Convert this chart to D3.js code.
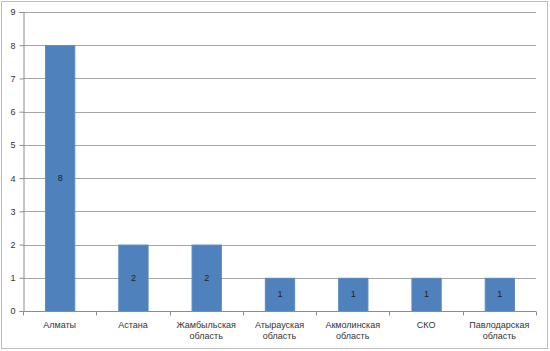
<!DOCTYPE html>
<html>
<head>
<meta charset="utf-8">
<script src="https://cdn.jsdelivr.net/npm/d3@7"></script>
<style>
  body { margin: 0; background: #fff; }
  svg { display: block; font-family: "Liberation Sans", Arial, sans-serif; }
</style>
</head>
<body>
<svg width="550" height="351"></svg>
<script>
// данные
const categories = ['Алматы', 'Астана', 'Жамбыльская область', 'Атырауская область',
  'Акмолинская область', 'СКО', 'Павлодарская область'];
const values = [8, 2, 2, 1, 1, 1, 1];
const yTicks = [0, 1, 2, 3, 4, 5, 6, 7, 8, 9];

const svg = d3.select('svg');
const margin = { left: 23, right: 14, top: 12, bottom: 40 };
const width = 550, height = 351;

// рамка диаграммы
svg.append('rect')
  .attr('x', 1.5).attr('y', 1.5)
  .attr('width', 546).attr('height', 347)
  .attr('fill', '#fff')
  .attr('stroke', '#bdbdbd');

const x = d3.scaleBand()
  .domain(categories)
  .range([margin.left, width - margin.right])
  .paddingInner(0.6)
  .paddingOuter(0.3);

const y = d3.scaleLinear()
  .domain([0, 9])
  .range([height - margin.bottom, margin.top]);

// сетка
svg.append('g')
  .selectAll('line')
  .data(yTicks.filter(d => d > 0))
  .enter().append('line')
  .attr('x1', margin.left).attr('x2', width - margin.right)
  .attr('y1', d => Math.round(y(d)) + 0.5).attr('y2', d => Math.round(y(d)) + 0.5)
  .attr('stroke', '#a6a6a6');

// ось Y
const yAxis = svg.append('g')
  .attr('transform', `translate(${margin.left + 0.5},0)`)
  .call(d3.axisLeft(y).tickValues(yTicks).tickSize(4).tickPadding(4));
yAxis.select('.domain').attr('stroke', '#8c8c8c');
yAxis.selectAll('.tick line').attr('stroke', '#8c8c8c');
yAxis.selectAll('text').attr('font-size', 9).attr('fill', '#333');

// столбцы
svg.append('g')
  .selectAll('rect')
  .data(values)
  .enter().append('rect')
  .attr('x', (d, i) => x(categories[i]) + 0.5)
  .attr('y', d => y(d) + 0.5)
  .attr('width', x.bandwidth())
  .attr('height', d => y(0) - y(d))
  .attr('fill', '#4f81bd')
  .attr('stroke', '#5b8ac4')
  .attr('stroke-width', 1);

// подписи значений
svg.append('g')
  .selectAll('text')
  .data(values)
  .enter().append('text')
  .attr('x', (d, i) => x(categories[i]) + x.bandwidth() / 2 + 0.5)
  .attr('y', d => (y(d) + y(0)) / 2 + 3)
  .attr('text-anchor', 'middle')
  .attr('font-size', 9)
  .attr('fill', '#1f1f1f')
  .text(d => d);

// ось X
const step = x.step();
const x0 = margin.left;
const x1 = width - margin.right;
const baseY = Math.round(y(0)) + 0.5;
svg.append('line')
  .attr('x1', x0).attr('x2', x1)
  .attr('y1', baseY).attr('y2', baseY)
  .attr('stroke', '#8c8c8c');
svg.append('g')
  .selectAll('line')
  .data(d3.range(categories.length + 1))
  .enter().append('line')
  .attr('x1', i => Math.round(x0 + i * (x1 - x0) / categories.length) + 0.5)
  .attr('x2', i => Math.round(x0 + i * (x1 - x0) / categories.length) + 0.5)
  .attr('y1', baseY).attr('y2', baseY + 4)
  .attr('stroke', '#8c8c8c');

// подписи категорий
const labels = svg.append('g')
  .selectAll('text')
  .data(categories)
  .enter().append('text')
  .attr('x', d => x(d) + x.bandwidth() / 2)
  .attr('y', 328)
  .attr('text-anchor', 'middle')
  .attr('font-size', 9)
  .attr('fill', '#333');
labels.each(function(d) {
  const parts = d.split(' ');
  const t = d3.select(this);
  parts.forEach((p, k) => {
    t.append('tspan')
      .attr('x', x(d) + x.bandwidth() / 2)
      .attr('dy', k === 0 ? 0 : 11)
      .text(p);
  });
});
</script>
</body>
</html>
